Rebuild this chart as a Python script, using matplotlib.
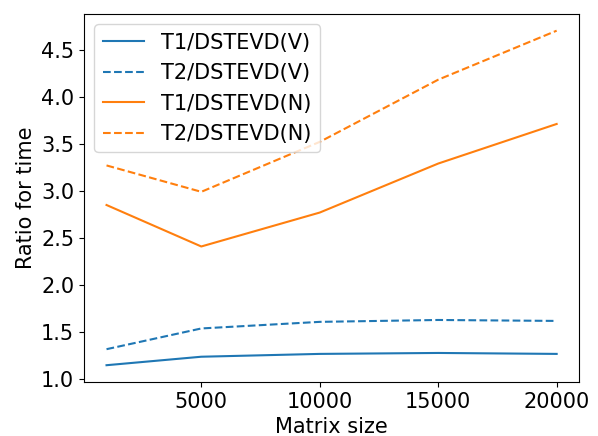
import matplotlib
matplotlib.use("Agg")
import matplotlib.pyplot as plt

# matrix sizes and time ratios
sizes = [1000, 5000, 10000, 15000, 20000]
t1_v = [1.15, 1.24, 1.27, 1.28, 1.27]
t2_v = [1.32, 1.54, 1.61, 1.63, 1.62]
t1_n = [2.85, 2.41, 2.77, 3.29, 3.71]
t2_n = [3.27, 2.99, 3.52, 4.18, 4.70]

plt.rcParams['font.size'] = 15

fig = plt.figure(figsize=(5.98, 4.36), dpi=100)
ax = fig.add_axes([0.1405, 0.124, 0.828, 0.844])

ax.plot(sizes, t1_v, '-', color='tab:blue', label='T1/DSTEVD(V)')
ax.plot(sizes, t2_v, '--', color='tab:blue', label='T2/DSTEVD(V)')
ax.plot(sizes, t1_n, '-', color='tab:orange', label='T1/DSTEVD(N)')
ax.plot(sizes, t2_n, '--', color='tab:orange', label='T2/DSTEVD(N)')

ax.set_xticks([5000, 10000, 15000, 20000])
ax.set_xlabel('Matrix size')
ax.set_ylabel('Ratio for time')
ax.legend(loc='upper left')

fig.savefig('out.png', dpi=100)
